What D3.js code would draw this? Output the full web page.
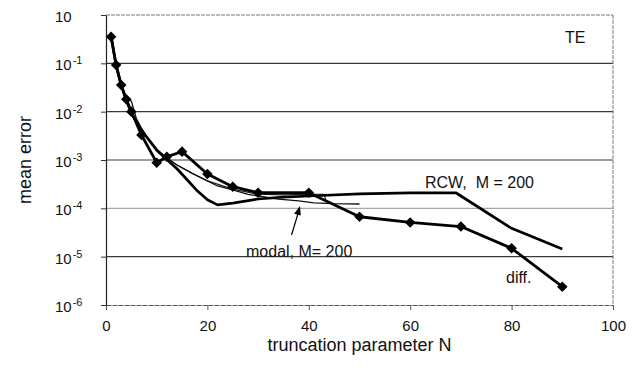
<!DOCTYPE html>
<html>
<head>
<meta charset="utf-8">
<script src="https://cdn.jsdelivr.net/npm/d3@7"></script>
<style>
  html, body { margin: 0; padding: 0; background: #fff; }
  svg { display: block; font-family: "Liberation Sans", Arial, Helvetica, sans-serif; }
</style>
</head>
<body>
<svg id="chart" width="639" height="369"></svg>
<script>
// Mean error vs truncation parameter N (TE case)
const xTicks = [0, 20, 40, 60, 80, 100];
const yExponents = [0, -1, -2, -3, -4, -5, -6];

// diff. series (with diamond markers)
const diffN   = [1, 2, 3, 4, 5, 7, 10, 12, 15, 20, 25, 30, 40, 50, 60, 70, 80, 90];
const diffErr = [0.356, 0.092, 0.0356, 0.018, 0.0100, 0.00329, 0.00088, 0.00117, 0.00149,
                 0.000513, 0.00028, 0.00021, 0.00021, 6.7e-5, 5.1e-5, 4.2e-5, 1.49e-5, 2.39e-6];

// RCW, M = 200
const rcwN   = [1, 2, 3, 4, 5, 6, 7, 8, 10, 12, 14, 16, 18, 20, 22, 25, 30, 35, 40, 50, 60, 69, 80, 90];
const rcwErr = [0.37, 0.09, 0.035, 0.017, 0.0095, 0.0062, 0.0042, 0.003, 0.0016, 0.00103,
                0.00066, 0.00039, 0.00023, 0.00015, 0.000118, 0.000128, 0.000156, 0.00017,
                0.00018, 0.0002, 0.000208, 0.00021, 3.86e-5, 1.44e-5];

// modal, M = 200
const modalN   = [1, 2, 3, 4, 5, 6, 7, 8, 10, 12, 14, 17, 20, 22, 25, 28, 30, 34, 38, 41, 45, 50];
const modalErr = [0.37, 0.09, 0.036, 0.019, 0.0165, 0.0072, 0.0045, 0.003, 0.0016, 0.0011,
                  0.00079, 0.00053, 0.00037, 0.00029, 0.00024, 0.000195, 0.00018, 0.000155,
                  0.000142, 0.00013, 0.000125, 0.000123];

// companion thin curve ending near N = 43
const thinN   = [1, 2, 3, 4, 5, 7, 10, 12, 14, 17, 20, 25, 30, 35, 40, 43, 43.5];
const thinErr = [0.37, 0.09, 0.036, 0.018, 0.0098, 0.0042, 0.0017, 0.0011, 0.00079, 0.00053,
                 0.00037, 0.00025, 0.000195, 0.00019, 0.000195, 0.000195, 0.000135];

const W = 639, H = 369;
const m = { left: 106, right: 26, top: 15, bottom: 64 };

const svg = d3.select("#chart");

const x = d3.scaleLinear().domain([0, 100]).range([m.left, W - m.right]);
const y = d3.scaleLog().domain([1e-6, 1]).range([H - m.bottom, m.top]);

const x0 = x.range()[0], x1 = x.range()[1];
const yB = y.range()[0], yT = y.range()[1];

// horizontal grid lines
const gridColor = e => (e === -4 ? "#a8a8a8" : "#3a3a3a");
svg.append("g")
  .selectAll("line")
  .data(yExponents.filter(e => e !== 0 && e !== -6))
  .join("line")
  .attr("x1", x0).attr("x2", x1)
  .attr("y1", e => y(Math.pow(10, e))).attr("y2", e => y(Math.pow(10, e)))
  .attr("stroke", gridColor)
  .attr("stroke-width", 1.2);

// plot frame
const frame = svg.append("g").attr("fill", "none");
frame.append("line").attr("x1", x0).attr("x2", x1).attr("y1", yT).attr("y2", yT)
  .attr("stroke", "#777").attr("stroke-width", 1).attr("stroke-dasharray", "4,1");
frame.append("line").attr("x1", x1).attr("x2", x1).attr("y1", yT).attr("y2", yB)
  .attr("stroke", "#777").attr("stroke-width", 1).attr("stroke-dasharray", "4,1");

// x axis
const xAxis = d3.axisBottom(x).tickValues(xTicks).tickSize(5).tickSizeOuter(0).tickPadding(10);
const gx = svg.append("g").attr("transform", `translate(0,${yB})`).call(xAxis);
gx.select(".domain").attr("stroke", "#555").attr("stroke-dasharray", "5,1");
gx.selectAll(".tick line").attr("stroke", "#555");
gx.selectAll(".tick text")
  .attr("font-size", 15).attr("fill", "#111")
  .attr("font-family", "Liberation Sans, Arial, sans-serif");

// y axis (log, decades)
const yAxis = d3.axisLeft(y)
  .tickValues(yExponents.map(e => Math.pow(10, e)))
  .tickSize(5).tickSizeOuter(0).tickFormat("");
const gy = svg.append("g").attr("transform", `translate(${x0},0)`).call(yAxis);
gy.select(".domain").attr("stroke", "#222").attr("stroke-width", 1.2);
gy.selectAll(".tick line").attr("stroke", "#333");

// y tick labels as 10 with superscript exponent
const yl = svg.append("g").attr("font-size", 15).attr("fill", "#111");
yExponents.forEach(e => {
  const t = yl.append("text")
    .attr("x", 55)
    .attr("y", y(Math.pow(10, e)) + 7);
  t.append("tspan").text("10");
  if (e !== 0) {
    t.append("tspan").attr("dy", -6).attr("dx", 1).attr("font-size", 11).text(String(e));
  }
});

// axis titles
svg.append("text")
  .attr("x", (x0 + x1) / 2).attr("y", 351)
  .attr("text-anchor", "middle").attr("font-size", 18).attr("fill", "#111")
  .text("truncation parameter N");
svg.append("text")
  .attr("transform", `translate(31,${(yT + yB) / 2}) rotate(-90)`)
  .attr("text-anchor", "middle").attr("font-size", 18).attr("fill", "#111")
  .text("mean error");

// series lines
const line = d3.line().x(d => x(d[0])).y(d => y(d[1]));
const zip = (a, b) => a.map((v, i) => [v, b[i]]);

svg.append("path").datum(zip(thinN, thinErr))
  .attr("d", line).attr("fill", "none").attr("stroke", "#222").attr("stroke-width", 1.1);
svg.append("path").datum(zip(modalN, modalErr))
  .attr("d", line).attr("fill", "none").attr("stroke", "#111").attr("stroke-width", 1.3);
svg.append("path").datum(zip(rcwN, rcwErr))
  .attr("d", line).attr("fill", "none").attr("stroke", "#000").attr("stroke-width", 2.7)
  .attr("stroke-linejoin", "round");
svg.append("path").datum(zip(diffN, diffErr))
  .attr("d", line).attr("fill", "none").attr("stroke", "#000").attr("stroke-width", 2.8)
  .attr("stroke-linejoin", "round");

// diamond markers on diff. (squares turned 45 degrees)
svg.append("g").selectAll("path")
  .data(zip(diffN, diffErr))
  .join("path")
  .attr("transform", d => `translate(${x(d[0])},${y(d[1])}) rotate(45)`)
  .attr("d", d3.symbol().type(d3.symbolSquare).size(56))
  .attr("fill", "#000");

// annotations
const ann = svg.append("g").attr("font-size", 16).attr("fill", "#111");
ann.append("text").attr("x", 565).attr("y", 43).text("TE");
ann.append("text").attr("x", 425).attr("y", 188).attr("xml:space", "preserve").text("RCW,  M = 200");
ann.append("text").attr("x", 246).attr("y", 257).text("modal, M= 200");
ann.append("text").attr("x", 506).attr("y", 283).text("diff.");

// arrow pointing at the modal curve
const ax0 = 291.5, ay0 = 235, ax1 = 300, ay1 = 206;
svg.append("line")
  .attr("x1", ax0).attr("y1", ay0).attr("x2", ax1 - 1.5).attr("y2", ay1 + 6)
  .attr("stroke", "#000").attr("stroke-width", 1.2);
const ang = Math.atan2(ay1 - ay0, ax1 - ax0);
const hl = 9, hw = 3.5;
const bx = ax1 - hl * Math.cos(ang), by = ay1 - hl * Math.sin(ang);
svg.append("path")
  .attr("d", `M${ax1},${ay1}L${bx + hw * Math.sin(ang)},${by - hw * Math.cos(ang)}L${bx - hw * Math.sin(ang)},${by + hw * Math.cos(ang)}Z`)
  .attr("fill", "#000");
</script>
</body>
</html>
